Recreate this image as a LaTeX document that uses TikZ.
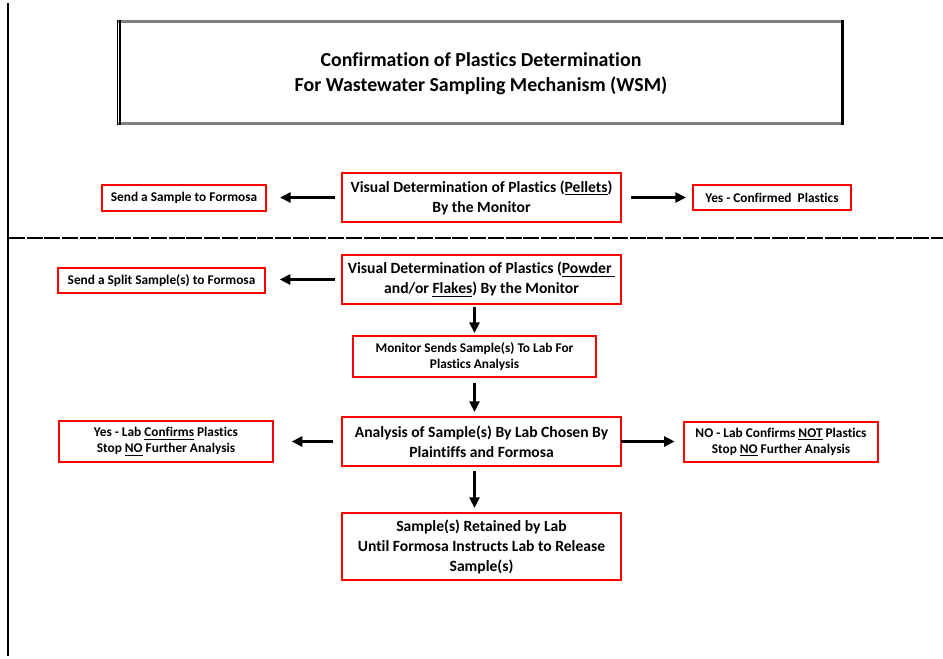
\documentclass[tikz,border=0pt]{standalone}
\usepackage{fontspec}
\setmainfont{Carlito}[Ligatures=NoCommon]
\usetikzlibrary{arrows.meta}
\tikzset{
  bigbox/.style={draw=red, line width=2.2pt, outer sep=0pt, inner sep=0pt, align=center,
    font=\bfseries\fontsize{11.7}{15}\selectfont},
  smallbox/.style={draw=red, line width=1.6pt, outer sep=0pt, inner sep=0pt, align=center,
    font=\bfseries\fontsize{10}{12}\selectfont},
  flow/.style={line width=2.2pt, -{Triangle[length=8pt,width=7.5pt]}},
}
\begin{document}
\begin{tikzpicture}[x=0.75pt,y=-0.75pt]
\useasboundingbox (0,0) rectangle (943,658);
% page rules
\draw[line width=1.8pt] (8,3) -- (8,656);
\draw[line width=1.5pt, dash pattern=on 12pt off 1.3pt] (9,238) -- (943,238);
% title box
\draw[line width=2.3pt, gray] (117,21.5) -- (844,21.5);
\draw[line width=2.3pt, gray] (117,123.5) -- (844,123.5);
\draw[line width=2.4pt] (842.5,20) -- (842.5,125);
\draw[line width=1.1pt] (117.7,20) -- (117.7,125);
\draw[line width=1.5pt] (120.2,20) -- (120.2,125);
\node[font=\bfseries\fontsize{14.9}{18.75}\selectfont, align=center] (title) at (481,74)
  {Confirmation of Plastics Determination\\For Wastewater Sampling Mechanism (WSM)};
% nodes
\node[bigbox, minimum width=279*0.75pt, minimum height=49*0.75pt] (pellets) at (481.5,197.5)
  {Visual Determination of Plastics (\underline{Pellets})\\By the Monitor};
\node[smallbox, minimum width=164*0.75pt, minimum height=26*0.75pt] (sendS) at (184,198)
  {Send a Sample to Formosa};
\node[smallbox, minimum width=158*0.75pt, minimum height=25*0.75pt] (yesC) at (772,197.5)
  {Yes - Confirmed\ \ Plastics};
\node[bigbox, minimum width=279*0.75pt, minimum height=49*0.75pt] (powder) at (481.5,279.5)
  {Visual Determination of Plastics (\underline{Powder\ }\\and/or \underline{Flakes}) By the Monitor};
\node[smallbox, minimum width=207*0.75pt, minimum height=25*0.75pt] (split) at (161.5,280.5)
  {Send a Split Sample(s) to Formosa};
\node[smallbox, minimum width=243*0.75pt, minimum height=41*0.75pt] (monitor) at (474.5,356.5)
  {Monitor Sends Sample(s) To Lab For\\Plastics Analysis};
\node[bigbox, minimum width=279*0.75pt, minimum height=49*0.75pt] (analysis) at (481.5,441.5)
  {Analysis of Sample(s) By Lab Chosen By\\Plaintiffs and Formosa};
\node[smallbox, minimum width=214*0.75pt, minimum height=41*0.75pt] (yeslab) at (166,441.5)
  {Yes - Lab \underline{Confirms} Plastics\\Stop \underline{NO} Further Analysis};
\node[smallbox, minimum width=194*0.75pt, minimum height=40*0.75pt] (nolab) at (781,442)
  {NO - Lab Confirms \underline{NOT} Plastics\\Stop \underline{NO} Further Analysis};
\node[bigbox, minimum width=279*0.75pt, minimum height=67*0.75pt] (retained) at (481.5,546.5)
  {Sample(s) Retained by Lab\\Until Formosa Instructs Lab to Release\\Sample(s)};
% connectors
\draw[flow, shorten <=5.25pt, shorten >=10.5pt] (pellets.west) -- (sendS.east |- pellets.west);
\draw[flow, shorten <=7.5pt, shorten >=5.25pt] (pellets.east |- yesC.west) -- (yesC.west);
\draw[flow, shorten <=5.25pt, shorten >=11pt] (powder.west) -- (split.east |- powder.west);
\draw[flow, shorten <=2.25pt, shorten >=2.25pt] (powder.south -| monitor.north) -- (monitor.north);
\draw[flow, shorten <=4.5pt, shorten >=3.75pt] (monitor.south) -- (analysis.north -| monitor.south);
\draw[flow, shorten <=6.75pt, shorten >=14pt] (analysis.west) -- (yeslab.east |- analysis.west);
\draw[flow, shorten >=7pt] (analysis.east) -- (nolab.west |- analysis.east);
\draw[flow, shorten <=3.75pt, shorten >=3.75pt] (analysis.south -| monitor.south) -- (retained.north -| monitor.south);
\end{tikzpicture}
\end{document}
